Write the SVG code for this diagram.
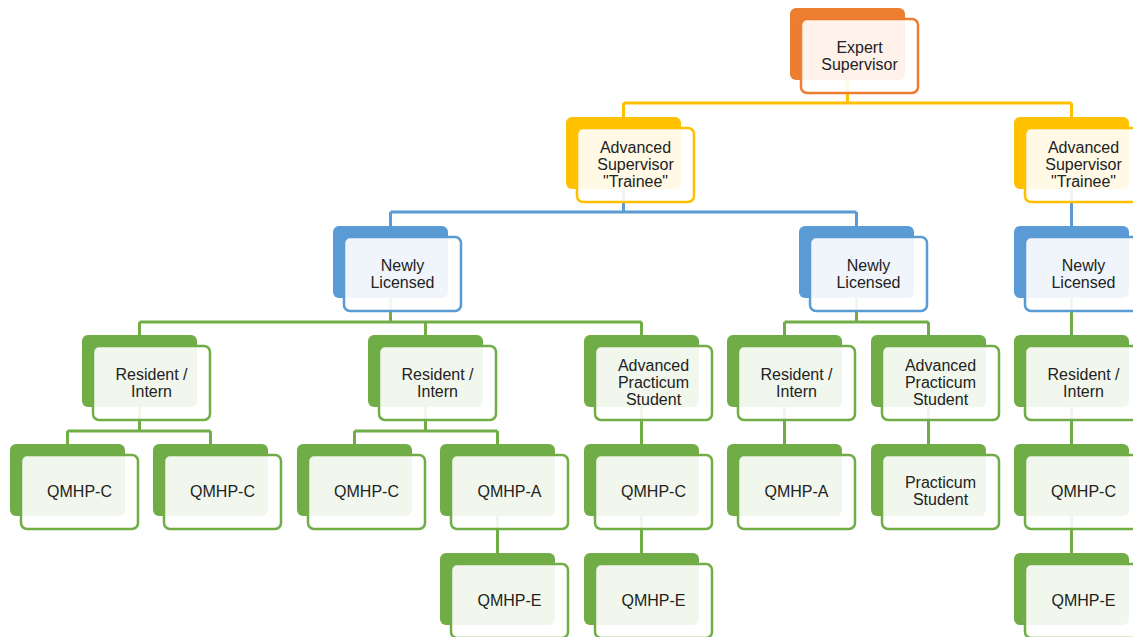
<svg xmlns="http://www.w3.org/2000/svg" width="1133" height="637" viewBox="0 0 1133 637">
<style>
.bk{stroke:none}
.fr{fill:#fff;fill-opacity:.9;stroke-width:2.5}
.o .bk{fill:#ED7D31}.o .fr{stroke:#ED7D31}
.y .bk{fill:#FFC000}.y .fr{stroke:#FFC000}
.b .bk{fill:#5B9BD5}.b .fr{stroke:#5B9BD5}
.g .bk{fill:#70AD47}.g .fr{stroke:#70AD47}
text{font-family:"Liberation Sans",Arial,sans-serif;font-size:16px;fill:#222;text-anchor:middle}
.c{fill:none;stroke-width:3}
.cy{stroke:#FFC000}.cb{stroke:#5B9BD5}.cg{stroke:#70AD47}
</style>
<rect width="1133" height="637" fill="#fff"/>
<g id="connectors">
<path class="c cy" d="M847.5 44V103M623.5 103H1071.5M623.5 103V117M1071.5 103V117"/>
<path class="c cb" d="M623.5 153V212M390.5 212H856.5M390.5 212V226M856.5 212V226M1071.5 153V226"/>
<path class="c cg" d="M390.5 262V322M139.5 322H641.5M139.5 322V335M425.5 322V335M641.5 322V335M856.5 262V322M784.5 322H928.5M784.5 322V335M928.5 322V335M1071.5 262V335"/>
<path class="c cg" d="M139.5 371V431M67.5 431H210.5M67.5 431V444M210.5 431V444M425.5 371V431M354.5 431H497.5M354.5 431V444M497.5 431V444M641.5 371V444M784.5 371V444M928.5 371V444M1071.5 371V444"/>
<path class="c cg" d="M497.5 480V553M641.5 480V553M1071.5 480V553"/>
</g>
<g id="n-expert" class="o"><rect class="bk" x="790" y="8" width="115" height="72" rx="6"/><rect class="fr" x="801" y="19" width="117" height="74" rx="6"/><text x="859.5" y="53">Expert</text><text x="859.5" y="70">Supervisor</text></g>
<g id="n-ast-l" class="y"><rect class="bk" x="566" y="117" width="115" height="72" rx="6"/><rect class="fr" x="577" y="128" width="117" height="74" rx="6"/><text x="635.5" y="153">Advanced</text><text x="635.5" y="170">Supervisor</text><text x="635.5" y="187">"Trainee"</text></g>
<g id="n-ast-r" class="y"><rect class="bk" x="1014" y="117" width="115" height="72" rx="6"/><rect class="fr" x="1025" y="128" width="117" height="74" rx="6"/><text x="1083.5" y="153">Advanced</text><text x="1083.5" y="170">Supervisor</text><text x="1083.5" y="187">"Trainee"</text></g>
<g id="n-nl-l" class="b"><rect class="bk" x="333" y="226" width="115" height="72" rx="6"/><rect class="fr" x="344" y="237" width="117" height="74" rx="6"/><text x="402.5" y="271">Newly</text><text x="402.5" y="288">Licensed</text></g>
<g id="n-nl-m" class="b"><rect class="bk" x="799" y="226" width="115" height="72" rx="6"/><rect class="fr" x="810" y="237" width="117" height="74" rx="6"/><text x="868.5" y="271">Newly</text><text x="868.5" y="288">Licensed</text></g>
<g id="n-nl-r" class="b"><rect class="bk" x="1014" y="226" width="115" height="72" rx="6"/><rect class="fr" x="1025" y="237" width="117" height="74" rx="6"/><text x="1083.5" y="271">Newly</text><text x="1083.5" y="288">Licensed</text></g>
<g id="n-ri-1" class="g"><rect class="bk" x="82" y="335" width="115" height="72" rx="6"/><rect class="fr" x="93" y="346" width="117" height="74" rx="6"/><text x="151.5" y="380">Resident /</text><text x="151.5" y="397">Intern</text></g>
<g id="n-ri-2" class="g"><rect class="bk" x="368" y="335" width="115" height="72" rx="6"/><rect class="fr" x="379" y="346" width="117" height="74" rx="6"/><text x="437.5" y="380">Resident /</text><text x="437.5" y="397">Intern</text></g>
<g id="n-aps-1" class="g"><rect class="bk" x="584" y="335" width="115" height="72" rx="6"/><rect class="fr" x="595" y="346" width="117" height="74" rx="6"/><text x="653.5" y="371">Advanced</text><text x="653.5" y="388">Practicum</text><text x="653.5" y="405">Student</text></g>
<g id="n-ri-3" class="g"><rect class="bk" x="727" y="335" width="115" height="72" rx="6"/><rect class="fr" x="738" y="346" width="117" height="74" rx="6"/><text x="796.5" y="380">Resident /</text><text x="796.5" y="397">Intern</text></g>
<g id="n-aps-2" class="g"><rect class="bk" x="871" y="335" width="115" height="72" rx="6"/><rect class="fr" x="882" y="346" width="117" height="74" rx="6"/><text x="940.5" y="371">Advanced</text><text x="940.5" y="388">Practicum</text><text x="940.5" y="405">Student</text></g>
<g id="n-ri-4" class="g"><rect class="bk" x="1014" y="335" width="115" height="72" rx="6"/><rect class="fr" x="1025" y="346" width="117" height="74" rx="6"/><text x="1083.5" y="380">Resident /</text><text x="1083.5" y="397">Intern</text></g>
<g id="n-q1" class="g"><rect class="bk" x="10" y="444" width="115" height="72" rx="6"/><rect class="fr" x="21" y="455" width="117" height="74" rx="6"/><text x="79.5" y="497">QMHP-C</text></g>
<g id="n-q2" class="g"><rect class="bk" x="153" y="444" width="115" height="72" rx="6"/><rect class="fr" x="164" y="455" width="117" height="74" rx="6"/><text x="222.5" y="497">QMHP-C</text></g>
<g id="n-q3" class="g"><rect class="bk" x="297" y="444" width="115" height="72" rx="6"/><rect class="fr" x="308" y="455" width="117" height="74" rx="6"/><text x="366.5" y="497">QMHP-C</text></g>
<g id="n-q4" class="g"><rect class="bk" x="440" y="444" width="115" height="72" rx="6"/><rect class="fr" x="451" y="455" width="117" height="74" rx="6"/><text x="509.5" y="497">QMHP-A</text></g>
<g id="n-q5" class="g"><rect class="bk" x="584" y="444" width="115" height="72" rx="6"/><rect class="fr" x="595" y="455" width="117" height="74" rx="6"/><text x="653.5" y="497">QMHP-C</text></g>
<g id="n-q6" class="g"><rect class="bk" x="727" y="444" width="115" height="72" rx="6"/><rect class="fr" x="738" y="455" width="117" height="74" rx="6"/><text x="796.5" y="497">QMHP-A</text></g>
<g id="n-ps" class="g"><rect class="bk" x="871" y="444" width="115" height="72" rx="6"/><rect class="fr" x="882" y="455" width="117" height="74" rx="6"/><text x="940.5" y="488">Practicum</text><text x="940.5" y="505">Student</text></g>
<g id="n-q8" class="g"><rect class="bk" x="1014" y="444" width="115" height="72" rx="6"/><rect class="fr" x="1025" y="455" width="117" height="74" rx="6"/><text x="1083.5" y="497">QMHP-C</text></g>
<g id="n-e1" class="g"><rect class="bk" x="440" y="553" width="115" height="72" rx="6"/><rect class="fr" x="451" y="564" width="117" height="74" rx="6"/><text x="509.5" y="606">QMHP-E</text></g>
<g id="n-e2" class="g"><rect class="bk" x="584" y="553" width="115" height="72" rx="6"/><rect class="fr" x="595" y="564" width="117" height="74" rx="6"/><text x="653.5" y="606">QMHP-E</text></g>
<g id="n-e3" class="g"><rect class="bk" x="1014" y="553" width="115" height="72" rx="6"/><rect class="fr" x="1025" y="564" width="117" height="74" rx="6"/><text x="1083.5" y="606">QMHP-E</text></g>
</svg>
